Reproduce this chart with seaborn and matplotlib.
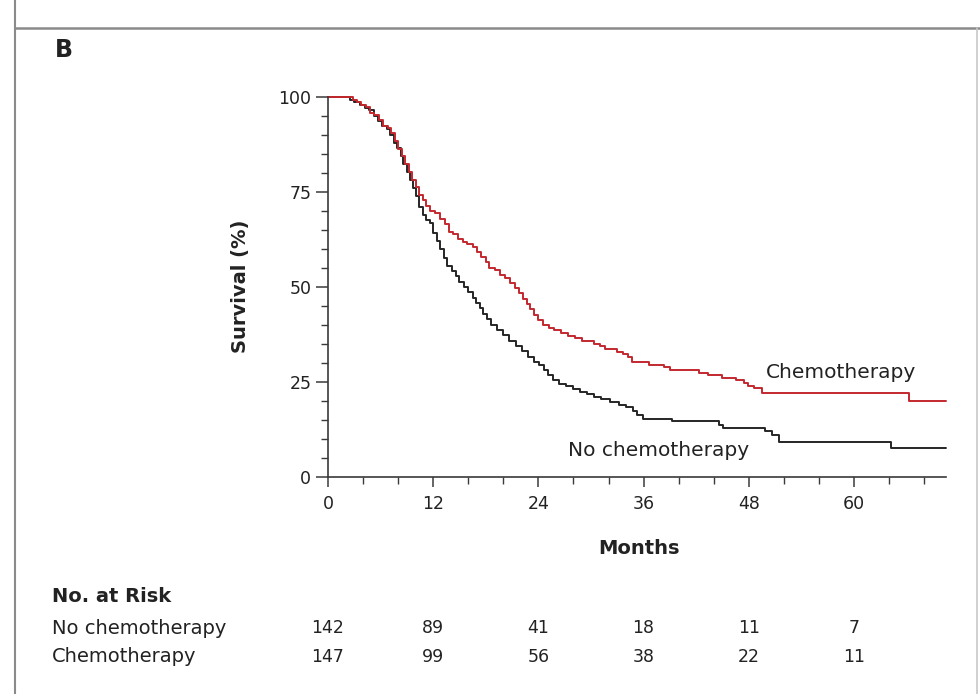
import matplotlib
matplotlib.use("Agg")
import matplotlib.pyplot as plt
import matplotlib.transforms as mtransforms
from matplotlib.lines import Line2D
from matplotlib.ticker import MultipleLocator
import seaborn as sns
import pandas as pd

# ---- data (months, survival %) ----
chemo_months = [0, 2.8, 3.3, 3.8, 4.3, 4.8, 5.3, 5.8, 6.3, 6.8, 7.2, 7.6, 8.0, 8.4, 8.8, 9.2,
                9.6, 10.0, 10.4, 10.8, 11.2, 11.6, 12.2, 12.8, 13.4, 13.8, 14.3, 14.8, 15.4,
                15.9, 16.5, 17.0, 17.5, 18.0, 18.4, 19.0, 19.6, 20.2, 20.8, 21.3, 21.8, 22.3,
                22.7, 23.1, 23.5, 23.9, 24.5, 25.2, 25.8, 26.6, 27.4, 28.2, 29.0, 30.4, 31.0,
                31.6, 33.0, 33.6, 34.2, 34.7, 36.6, 38.3, 39.0, 42.3, 43.3, 45.0, 46.6, 47.5,
                47.9, 48.6, 49.5, 66.3, 70.5]
chemo_surv = [100, 99.3, 98.6, 98.0, 97.3, 95.9, 95.2, 93.9, 92.5, 91.8, 90.4, 88.4, 86.4, 84.4,
              82.3, 80.3, 78.2, 76.2, 74.1, 72.8, 71.4, 70.0, 69.4, 68.0, 66.7, 64.6, 63.9, 62.6,
              61.9, 61.2, 60.5, 59.2, 57.8, 56.5, 55.1, 54.4, 53.1, 52.4, 51.0, 49.7, 48.3, 46.9,
              45.5, 44.1, 42.7, 41.3, 40.0, 39.3, 38.6, 37.9, 37.2, 36.5, 35.8, 35.1, 34.4, 33.7,
              33.0, 32.3, 31.6, 30.3, 29.6, 28.9, 28.2, 27.5, 26.8, 26.1, 25.4, 24.7, 24.0, 23.3,
              22.0, 20.0, 20.0]

nochemo_months = [0, 2.5, 3.0, 3.6, 4.2, 4.7, 5.2, 5.7, 6.2, 6.7, 7.1, 7.5, 7.9, 8.3, 8.6, 9.0,
                  9.3, 9.7, 10.0, 10.4, 10.8, 11.2, 11.6, 12.0, 12.4, 12.8, 13.2, 13.6, 14.1,
                  14.6, 15.0, 15.5, 16.0, 16.5, 16.9, 17.3, 17.7, 18.1, 18.6, 19.3, 20.0, 20.7,
                  21.4, 22.1, 22.8, 23.5, 24.1, 24.6, 25.1, 25.7, 26.4, 27.2, 28.0, 28.8, 29.6,
                  30.4, 31.2, 32.2, 33.2, 34.0, 34.8, 35.3, 35.9, 39.2, 44.6, 45.1, 49.8, 50.6,
                  51.4, 64.2, 70.5]
nochemo_surv = [100, 99.3, 98.6, 97.9, 97.2, 96.5, 95.1, 93.7, 92.3, 91.5, 90.1, 88.0, 86.6,
                84.5, 82.4, 80.3, 78.2, 76.1, 73.9, 71.1, 69.0, 67.6, 66.9, 64.1, 62.0, 59.9,
                57.7, 55.6, 54.2, 52.8, 51.4, 50.0, 48.6, 47.2, 45.8, 44.4, 43.0, 41.5, 40.1,
                38.7, 37.3, 35.9, 34.5, 33.1, 31.7, 30.3, 29.6, 28.2, 26.8, 25.4, 24.6, 23.9,
                23.2, 22.5, 21.8, 21.1, 20.4, 19.7, 19.0, 18.3, 17.4, 16.2, 15.2, 14.7, 13.6,
                12.8, 12.0, 11.0, 9.3, 7.6, 7.6]

risk_months = [0, 12, 24, 36, 48, 60]
risk_nochemo = [142, 89, 41, 18, 11, 7]
risk_chemo = [147, 99, 56, 38, 22, 11]

RED = "#c3282e"
BLACK = "#262626"
AXC = "#3a3a3a"

sns.set_style("ticks")
plt.rcParams["font.family"] = ["DejaVu Sans"]

df = pd.concat([
    pd.DataFrame({"month": chemo_months, "surv": chemo_surv, "group": "Chemotherapy"}),
    pd.DataFrame({"month": nochemo_months, "surv": nochemo_surv, "group": "No chemotherapy"}),
])

fig = plt.figure(figsize=(9.8, 6.94), dpi=100)
ax = fig.add_axes([328 / 980, 1 - 477 / 694, (946 - 328) / 980, (477 - 97) / 694])

sns.lineplot(data=df, x="month", y="surv", hue="group",
             palette={"Chemotherapy": RED, "No chemotherapy": BLACK},
             hue_order=["No chemotherapy", "Chemotherapy"],
             estimator=None, sort=False, drawstyle="steps-post",
             linewidth=1.4, legend=False, clip_on=False, ax=ax)

ax.set_xlim(0, 70.5)
ax.set_ylim(0, 100)
ax.xaxis.set_major_locator(MultipleLocator(12))
ax.xaxis.set_minor_locator(MultipleLocator(4))
ax.yaxis.set_major_locator(MultipleLocator(25))
ax.yaxis.set_minor_locator(MultipleLocator(5))
ax.set_xlabel("")
ax.set_ylabel("")
sns.despine(ax=ax)
for s in ["left", "bottom"]:
    ax.spines[s].set_color(AXC)
    ax.spines[s].set_linewidth(1.2)

ax.tick_params(axis="y", which="major", length=9, width=1.1, pad=3, labelsize=12.5, color=AXC, labelcolor="#222")
ax.tick_params(axis="y", which="minor", length=5, width=1.0, color=AXC)
ax.tick_params(axis="x", which="major", length=7, width=1.1, pad=6, labelsize=12.5, color=AXC, labelcolor="#222")
ax.tick_params(axis="x", which="minor", length=5, width=1.0, color=AXC)

# curve labels
ax.text(50.0, 27.4, "Chemotherapy", fontsize=14.5, color="#222", va="center", ha="left")
ax.text(27.4, 7.1, "No chemotherapy", fontsize=14.5, color="#222", va="center", ha="left")

# panel letter and axis titles
fig.text(55 / 980, 1 - 50 / 694, "B", fontsize=17, fontweight="bold", va="center", ha="left", color="#222")
fig.text(240 / 980, 1 - 286 / 694, "Survival (%)", fontsize=14, fontweight="bold",
         rotation=90, va="center", ha="center", color="#222")
fig.text(639 / 980, 1 - 548 / 694, "Months", fontsize=14, fontweight="bold",
         va="center", ha="center", color="#222")

# number at risk table
fig.text(52 / 980, 1 - 596 / 694, "No. at Risk", fontsize=14, fontweight="bold", va="center", ha="left", color="#222")
fig.text(52 / 980, 1 - 628 / 694, "No chemotherapy", fontsize=14, va="center", ha="left", color="#222")
fig.text(52 / 980, 1 - 657 / 694, "Chemotherapy", fontsize=14, va="center", ha="left", color="#222")
trans = mtransforms.blended_transform_factory(ax.transData, fig.transFigure)
for m, a, b in zip(risk_months, risk_nochemo, risk_chemo):
    ax.text(m, 1 - 628 / 694, str(a), transform=trans, fontsize=12.5, va="center", ha="center", color="#222")
    ax.text(m, 1 - 657 / 694, str(b), transform=trans, fontsize=12.5, va="center", ha="center", color="#222")

# panel frame
fig.add_artist(Line2D([15 / 980, 1], [1 - 28 / 694, 1 - 28 / 694], transform=fig.transFigure, color="#8a8a8a", lw=1.8))
fig.add_artist(Line2D([15 / 980, 15 / 980], [0, 1], transform=fig.transFigure, color="#8a8a8a", lw=1.5))
fig.add_artist(Line2D([977 / 980, 977 / 980], [0, 1 - 28 / 694], transform=fig.transFigure, color="#c8c8c8", lw=1.2))

fig.savefig("out.png", dpi=100)
